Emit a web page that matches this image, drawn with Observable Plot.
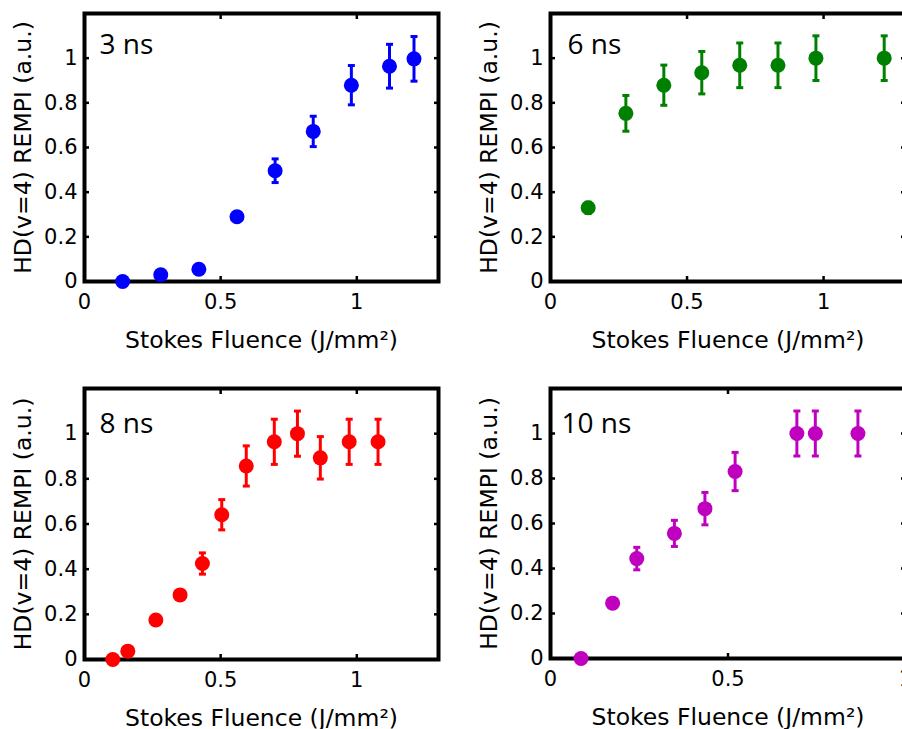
<!DOCTYPE html>
<html>
<head>
<meta charset="utf-8">
<script src="https://cdn.jsdelivr.net/npm/d3@7"></script>
<script src="https://cdn.jsdelivr.net/npm/@observablehq/plot@0.6"></script>
<style>
  html, body { margin: 0; padding: 0; background: #fff; overflow: hidden; }
  #wrap { position: relative; width: 902px; height: 729px; overflow: hidden; background: #fff; }
  #wrap svg { position: absolute; background: transparent; }
</style>
</head>
<body>
<div id="wrap"></div>
<script>
// ---- data ----
const panelLabels = ["3 ns", "6 ns", "8 ns", "10 ns"];
const xLabel = "Stokes Fluence (J/mm\u00B2)";
const yLabel = "HD(v=4) REMPI (a.u.)";
const yTicks = [0, 0.2, 0.4, 0.6, 0.8, 1];
const xTicks = [0, 0.5, 1];

// 3 ns (blue)
const x3 = [0.14, 0.28, 0.42, 0.56, 0.70, 0.84, 0.98, 1.12, 1.21];
const y3 = [0.00, 0.03, 0.055, 0.29, 0.496, 0.672, 0.879, 0.964, 0.997];
const e3 = [0.01, 0.015, 0.015, 0.02, 0.053, 0.068, 0.088, 0.098, 0.10];

// 6 ns (green)
const x6 = [0.138, 0.276, 0.415, 0.554, 0.693, 0.833, 0.972, 1.222];
const y6 = [0.33, 0.753, 0.879, 0.935, 0.968, 0.968, 1.0, 1.0];
const e6 = [0.025, 0.08, 0.09, 0.095, 0.10, 0.10, 0.10, 0.10];

// 8 ns (red)
const x8 = [0.104, 0.159, 0.262, 0.351, 0.433, 0.504, 0.594, 0.697, 0.782, 0.866, 0.972, 1.078];
const y8 = [0.0, 0.037, 0.175, 0.286, 0.425, 0.641, 0.857, 0.964, 1.0, 0.893, 0.964, 0.964];
const e8 = [0.01, 0.01, 0.02, 0.02, 0.047, 0.067, 0.089, 0.10, 0.10, 0.094, 0.10, 0.10];

// 10 ns (magenta)
const x10 = [0.086, 0.175, 0.243, 0.349, 0.435, 0.52, 0.694, 0.746, 0.866];
const y10 = [0.0, 0.246, 0.444, 0.556, 0.666, 0.831, 1.0, 1.0, 1.0];
const e10 = [0.01, 0.02, 0.05, 0.058, 0.072, 0.085, 0.10, 0.10, 0.10];

const seriesX = [x3, x6, x8, x10];
const seriesY = [y3, y6, y8, y10];
const seriesE = [e3, e6, e8, e10];
const colors = ["#0000ff", "#008000", "#ff0000", "#bf00bf"];
const xDomains = [[0, 1.3], [0, 1.3], [0, 1.3], [0, 1]];

// ---- layout ----
const layout = [
  {left: 0,   top: 0,   width: 451, height: 364, mL: 84, mR: 13, mT: 13, mB: 83, lx: 15, ly: 40},
  {left: 451, top: 0,   width: 470, height: 364, mL: 99, mR: 16, mT: 13, mB: 83, lx: 17, ly: 40},
  {left: 0,   top: 364, width: 451, height: 365, mL: 84, mR: 13, mT: 24, mB: 70, lx: 15, ly: 44},
  {left: 451, top: 364, width: 470, height: 365, mL: 99, mR: 16, mT: 24, mB: 71, lx: 11, ly: 44}
];

const capSymbol = {
  draw(ctx, size) {
    const r = Math.sqrt(size / Math.PI);
    ctx.moveTo(-r, 0);
    ctx.lineTo(r, 0);
  }
};

const fmt = d => String(d);
const blank = () => "";
const wrap = document.getElementById("wrap");

layout.forEach((L, k) => {
  const data = seriesX[k].map((x, i) => ({x, y: seriesY[k][i], e: seriesE[k][i]}));
  const color = colors[k];
  const svg = Plot.plot({
    width: L.width,
    height: L.height,
    marginLeft: L.mL,
    marginRight: L.mR,
    marginTop: L.mT,
    marginBottom: L.mB,
    x: {domain: xDomains[k]},
    y: {domain: [0, 1.2]},
    style: {fontFamily: "DejaVu Sans", fontSize: "21px", color: "black", background: "transparent", overflow: "visible"},
    marks: [
      Plot.frame({stroke: "black", strokeWidth: 4}),
      // inward ticks on all four sides
      Plot.axisX(xTicks, {anchor: "bottom", tickSize: -5, strokeWidth: 2.5, tickFormat: blank, label: null}),
      Plot.axisX(xTicks, {anchor: "top", tickSize: -5, strokeWidth: 2.5, tickFormat: blank, label: null}),
      Plot.axisY(yTicks, {anchor: "left", tickSize: -5, strokeWidth: 2.5, tickFormat: blank, label: null}),
      Plot.axisY(yTicks, {anchor: "right", tickSize: -5, strokeWidth: 2.5, tickFormat: blank, label: null}),
      // tick labels
      Plot.axisX(xTicks, {anchor: "bottom", tickSize: 0, tickPadding: 13, tickFormat: fmt, label: null}),
      Plot.axisY(yTicks, {anchor: "left", tickSize: 0, tickPadding: 7, tickFormat: fmt, label: null}),
      // error bars
      Plot.ruleX(data, {x: "x", y1: d => d.y - d.e, y2: d => d.y + d.e, stroke: color, strokeWidth: 3}),
      Plot.dot(data, {x: "x", y: d => d.y + d.e, symbol: capSymbol, r: 3.5, stroke: color, strokeWidth: 3, fill: "none"}),
      Plot.dot(data, {x: "x", y: d => d.y - d.e, symbol: capSymbol, r: 3.5, stroke: color, strokeWidth: 3, fill: "none"}),
      // markers
      Plot.dot(data, {x: "x", y: "y", r: 7.5, fill: color, stroke: "none"}),
      // panel label
      Plot.text([panelLabels[k]], {frameAnchor: "top-left", dx: L.lx, dy: L.ly, textAnchor: "start", lineAnchor: "bottom", fontFamily: "Open Sans", fontSize: 28, fill: "black"}),
      // axis titles
      Plot.text([xLabel], {frameAnchor: "bottom", dy: 66, textAnchor: "middle", lineAnchor: "bottom", fontSize: 23.5, fill: "black"}),
      Plot.text([yLabel], {frameAnchor: "left", dx: -61, rotate: -90, textAnchor: "middle", lineAnchor: "middle", fontSize: 23.5, fill: "black"})
    ]
  });
  svg.style.left = L.left + "px";
  svg.style.top = L.top + "px";
  wrap.appendChild(svg);
});
</script>
</body>
</html>
